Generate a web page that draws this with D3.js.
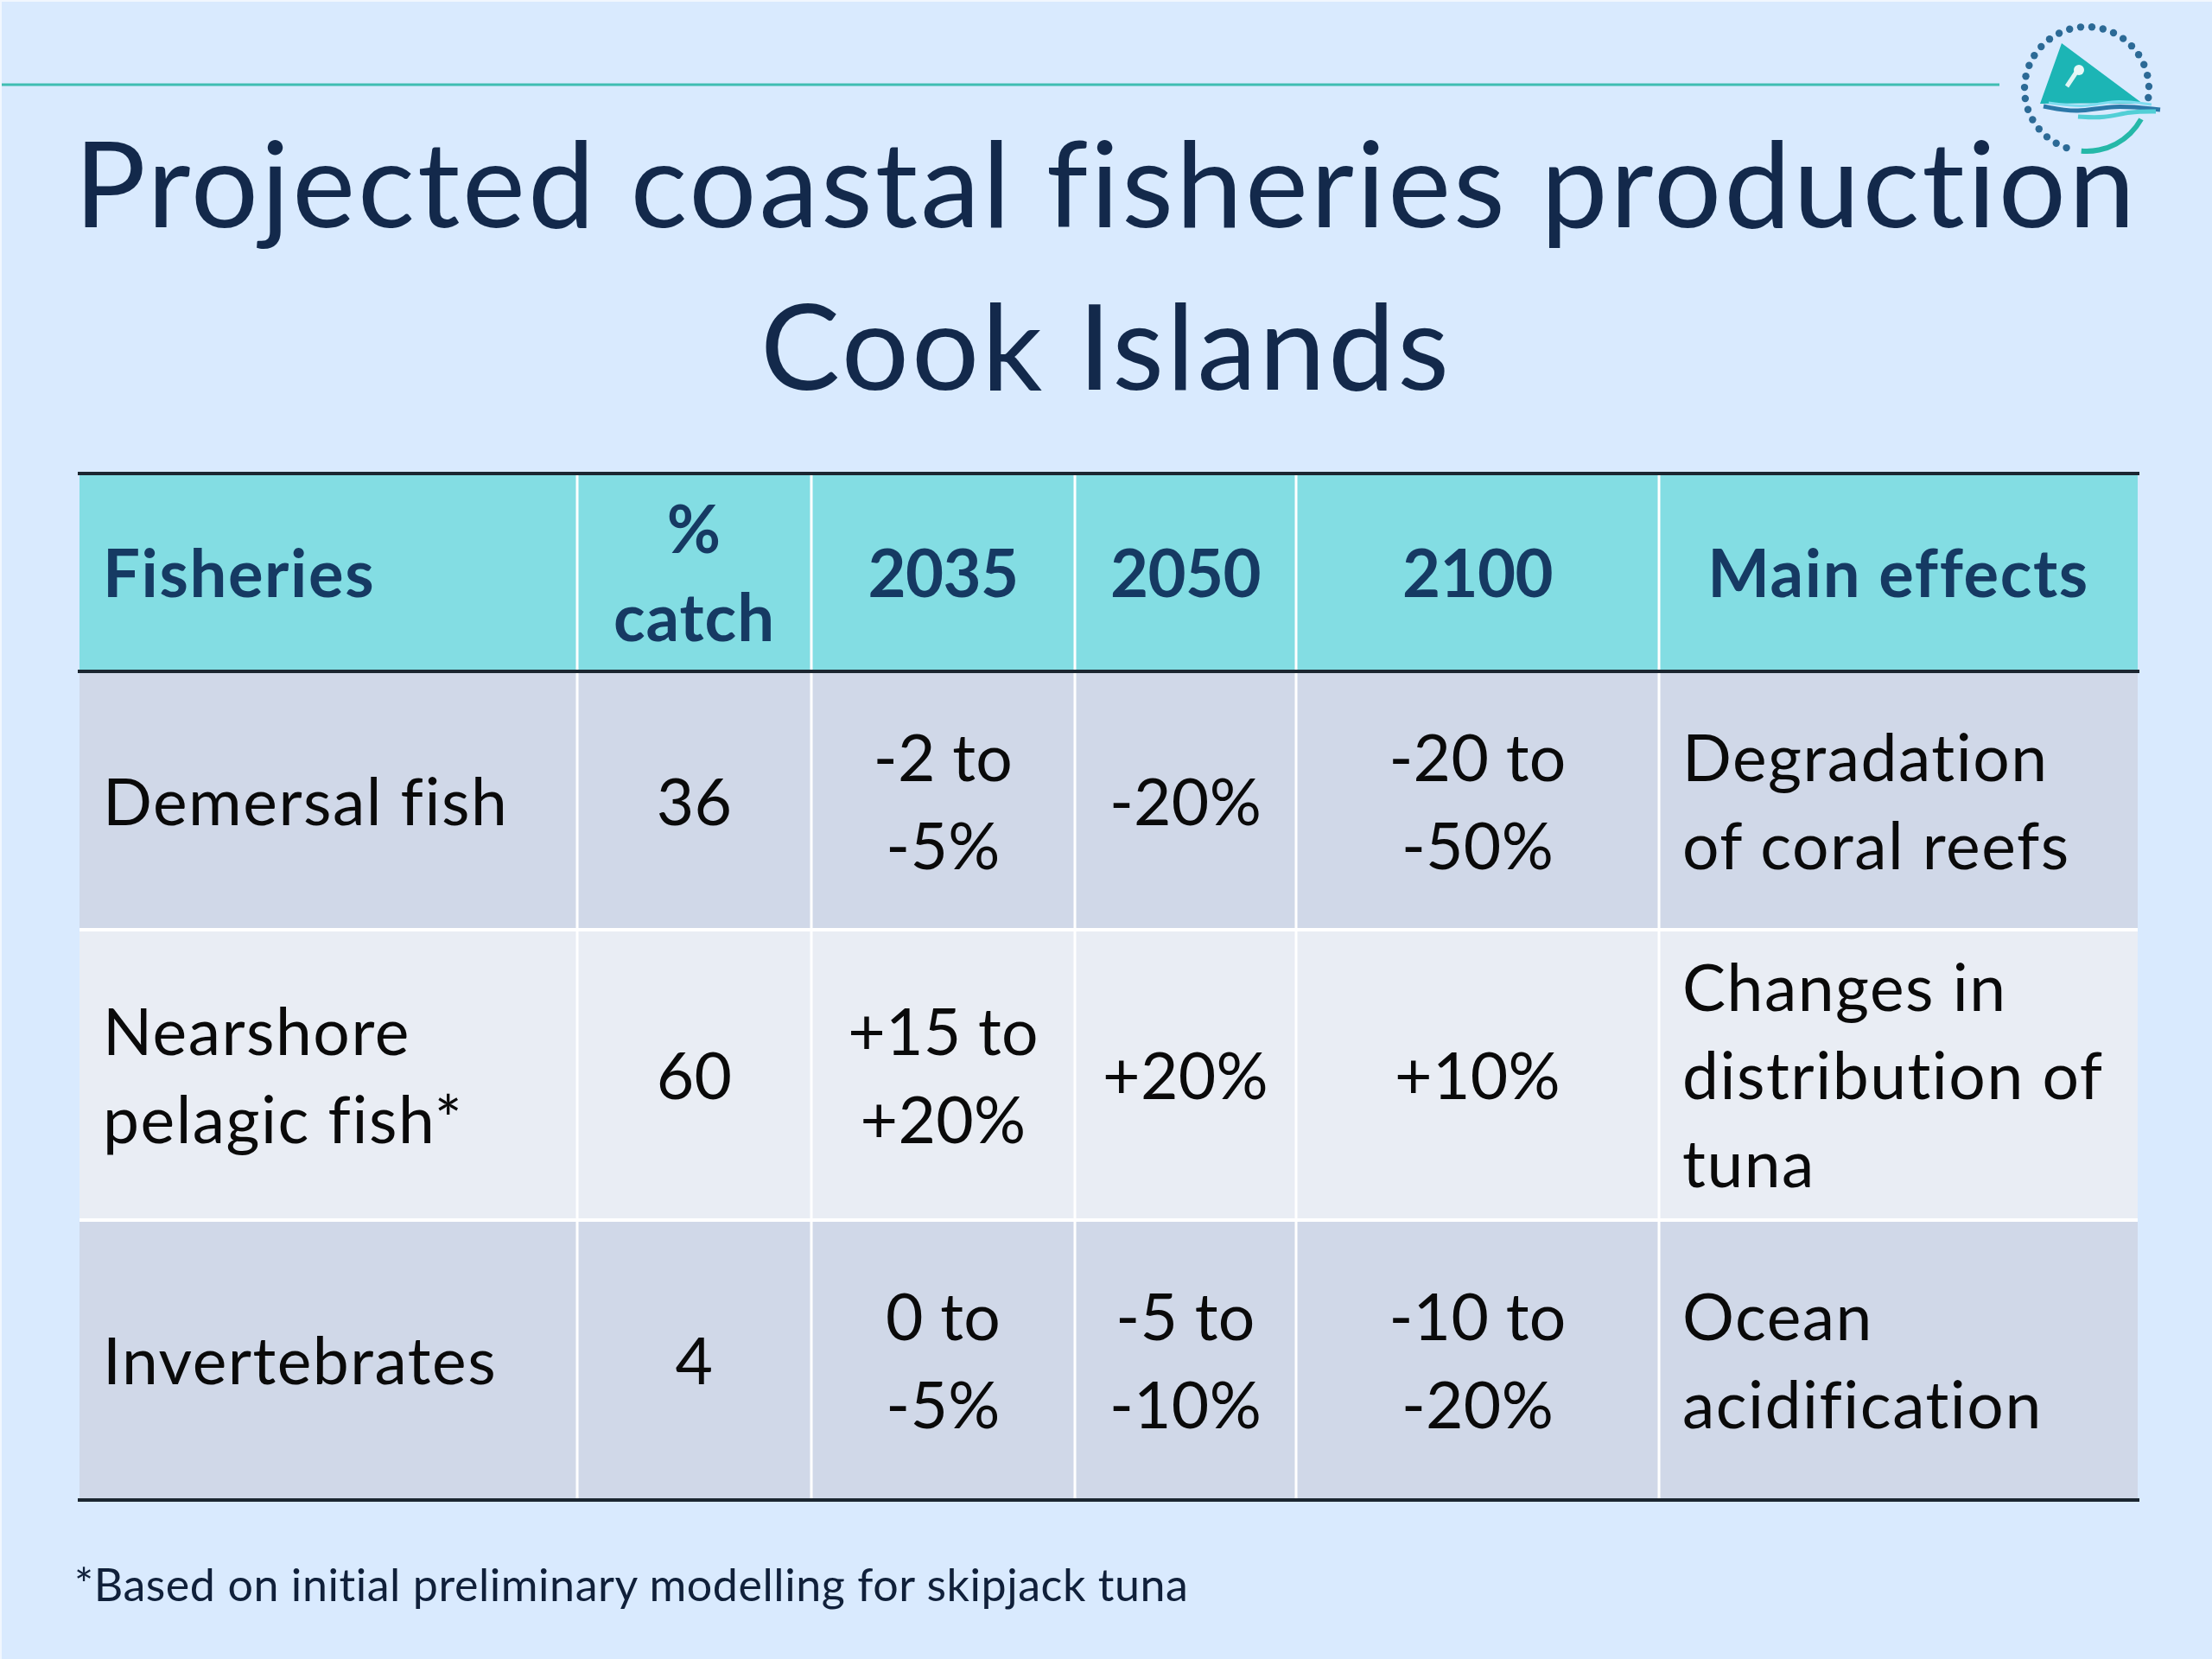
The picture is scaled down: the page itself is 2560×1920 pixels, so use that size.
<!DOCTYPE html>
<html>
<head>
<meta charset="utf-8">
<script src="https://cdn.jsdelivr.net/npm/d3@7"></script>
<style>
  html, body { margin: 0; padding: 0; background: #d9eafe; }
  svg { display: block; }
  text { font-variant-ligatures: none; }
</style>
</head>
<body>
<script>
const titleLines = ["Projected coastal fisheries production", "Cook Islands"];
const footnote = "*Based on initial preliminary modelling for skipjack tuna";

const columns = ["Fisheries", "% catch", "2035", "2050", "2100", "Main effects"];
const rowNames = ["header", "demersal", "nearshore", "invertebrates"];

const headerCells = [["Fisheries"], ["%", "catch"], ["2035"], ["2050"], ["2100"], ["Main effects"]];
const demersalCells = [["Demersal fish"], ["36"], ["-2 to", "-5%"], ["-20%"], ["-20 to", "-50%"], ["Degradation", "of coral reefs"]];
const nearshoreCells = [["Nearshore", "pelagic fish*"], ["60"], ["+15 to", "+20%"], ["+20%"], ["+10%"], ["Changes in", "distribution of", "tuna"]];
const invertebrateCells = [["Invertebrates"], ["4"], ["0 to", "-5%"], ["-5 to", "-10%"], ["-10 to", "-20%"], ["Ocean", "acidification"]];
const tableRows = [headerCells, demersalCells, nearshoreCells, invertebrateCells];

const width = 2560;
const height = 1920;

const colEdges = [92, 668, 939, 1244, 1500, 1920, 2474];
const rowEdges = [548, 777, 1076, 1412, 1736];
const x = d3.scaleOrdinal(columns, colEdges);
const y = d3.scaleOrdinal(rowNames, rowEdges);
const colWidth = (i) => colEdges[i + 1] - colEdges[i];
const rowHeight = (i) => rowEdges[i + 1] - rowEdges[i];

const colors = {
  bg: "#d9eafe",
  edge: "#f1f7fe",
  rule: "#3fbdb2",
  title: "#13294b",
  head: "#83dde3",
  headText: "#163a63",
  band1: "#d0d8e8",
  band2: "#e9edf4",
  grid: "#ffffff",
  line: "#1b2630",
  text: "#0a0a0a",
  note: "#10203a",
  sail: "#1cb5b5",
  dot: "#2c6a96",
};

const font = "Lato, Carlito, Calibri, sans-serif";
const lineGap = 102;

// Lato runs a bit wider on digits than the original face
function cellSpacing(r, c) {
  if (r === 0) return c >= 2 && c <= 4 ? -0.6 : c === 1 ? 1 : 1.6;
  return c >= 1 && c <= 4 ? 0.3 : 1.5;
}

const svg = d3.select("body").append("svg")
  .attr("width", width)
  .attr("height", height)
  .attr("viewBox", `0 0 ${width} ${height}`);

svg.append("rect").attr("width", width).attr("height", height).attr("fill", colors.bg);
svg.append("rect").attr("width", width).attr("height", 2).attr("fill", colors.edge);
svg.append("rect").attr("width", 2).attr("height", height).attr("fill", colors.edge);

// top rule
svg.append("line")
  .attr("x1", 2).attr("x2", 2314)
  .attr("y1", 98).attr("y2", 98)
  .attr("stroke", colors.rule).attr("stroke-width", 3);

// logo
const logo = svg.append("g").attr("transform", "translate(2415, 103)");
const dotAngles = d3.range(26).map((i) => 8 - i * (259 / 25));
logo.selectAll("circle")
  .data(dotAngles)
  .join("circle")
  .attr("cx", (d) => 72 * Math.cos((d * Math.PI) / 180))
  .attr("cy", (d) => 72 * Math.sin((d * Math.PI) / 180))
  .attr("r", 4.2)
  .attr("fill", colors.dot);
logo.append("path")
  .attr("d", "M-29,-53 L-54,17 Q10,16 65,17 Z")
  .attr("fill", colors.sail);
logo.append("path")
  .attr("d", "M-23,-3 L-9,-24")
  .attr("stroke", "#dff5f5").attr("stroke-width", 5).attr("fill", "none");
logo.append("circle").attr("cx", -9).attr("cy", -22).attr("r", 6).attr("fill", "#e8f8f8");
const waveLine = d3.line().curve(d3.curveBasis);
logo.append("path")
  .attr("d", waveLine([[-50, 20], [-10, 28], [30, 18], [85, 24]]))
  .attr("stroke", "#2c78a8").attr("stroke-width", 5).attr("fill", "none");
logo.append("path")
  .attr("d", waveLine([[-44, 16], [0, 22], [30, 12], [75, 18]]))
  .attr("stroke", "#7fdcf0").attr("stroke-width", 3).attr("fill", "none");
logo.append("path")
  .attr("d", waveLine([[-10, 32], [20, 34], [50, 26], [80, 26]]))
  .attr("stroke", "#52cfd6").attr("stroke-width", 5).attr("fill", "none");
logo.append("path")
  .attr("d", d3.arc()({ innerRadius: 69, outerRadius: 75, startAngle: (185 * Math.PI) / 180, endAngle: (119 * Math.PI) / 180 }))
  .attr("fill", "#25b8a8");

// title
svg.selectAll("text.title")
  .data(titleLines)
  .join("text")
  .attr("class", "title")
  .attr("x", 1280)
  .attr("y", (d, i) => 263 + i * 188)
  .attr("text-anchor", "middle")
  .attr("font-family", font)
  .attr("font-size", 138)
  .attr("letter-spacing", 3)
  .attr("fill", colors.title)
  .text((d) => d);

// table cells
const rowGroups = svg.append("g").selectAll("g")
  .data(tableRows)
  .join("g");

rowGroups.each(function (cells, r) {
  const top = y(rowNames[r]);
  const h = rowHeight(r);
  const fill = r === 0 ? colors.head : r % 2 === 1 ? colors.band1 : colors.band2;
  const g = d3.select(this);

  g.selectAll("rect")
    .data(cells)
    .join("rect")
    .attr("x", (d, c) => x(columns[c]))
    .attr("y", top)
    .attr("width", (d, c) => colWidth(c))
    .attr("height", h)
    .attr("fill", fill);

  g.selectAll("text")
    .data(cells)
    .join("text")
    .attr("font-family", font)
    .attr("font-size", r === 0 ? 76 : 75)
    .attr("letter-spacing", (d, c) => cellSpacing(r, c))
    .attr("font-weight", r === 0 ? 700 : 400)
    .attr("fill", r === 0 ? colors.headText : colors.text)
    .attr("text-anchor", (d, c) => (c === 0 || (c === 5 && r > 0) ? "start" : "middle"))
    .each(function (lines, c) {
      const left = c === 0 || (c === 5 && r > 0);
      const tx = left ? x(columns[c]) + 27 : x(columns[c]) + colWidth(c) / 2;
      const startY = top + h / 2 + 28 - ((lines.length - 1) * lineGap) / 2;
      d3.select(this).selectAll("tspan")
        .data(lines)
        .join("tspan")
        .attr("x", tx)
        .attr("y", (d, i) => startY + i * lineGap)
        .text((d) => d);
    });
});

// grid lines
svg.append("g").selectAll("line")
  .data(colEdges.slice(1, -1))
  .join("line")
  .attr("x1", (d) => d).attr("x2", (d) => d)
  .attr("y1", rowEdges[0]).attr("y2", rowEdges[4])
  .attr("stroke", colors.grid).attr("stroke-width", 3);

svg.append("g").selectAll("line")
  .data(rowEdges.slice(2, -1))
  .join("line")
  .attr("x1", colEdges[0]).attr("x2", colEdges[6])
  .attr("y1", (d) => d).attr("y2", (d) => d)
  .attr("stroke", colors.grid).attr("stroke-width", 4);

svg.append("g").selectAll("line")
  .data([rowEdges[0], rowEdges[1], rowEdges[4]])
  .join("line")
  .attr("x1", colEdges[0] - 2).attr("x2", colEdges[6] + 2)
  .attr("y1", (d) => d).attr("y2", (d) => d)
  .attr("stroke", colors.line).attr("stroke-width", 4);

// footnote
svg.append("text")
  .attr("x", 86)
  .attr("y", 1853)
  .attr("font-family", font)
  .attr("font-size", 52)
  .attr("letter-spacing", 0.55)
  .attr("fill", colors.note)
  .text(footnote);
</script>
</body>
</html>
